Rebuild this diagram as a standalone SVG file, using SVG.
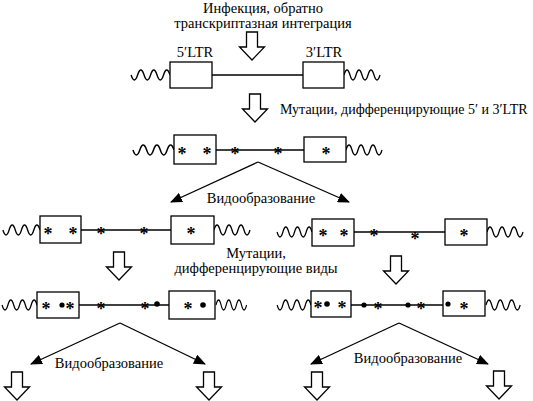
<svg xmlns="http://www.w3.org/2000/svg" xmlns:xlink="http://www.w3.org/1999/xlink" width="533" height="401" viewBox="0 0 533 401">
<style>
text{fill:#000;font-family:"Liberation Serif","Times New Roman",serif}
.lbl{font-size:14.5px;text-anchor:middle}
.st{font-size:18px;text-anchor:middle;font-weight:bold}
.box{fill:#fff;stroke:#000;stroke-width:1.3}
.ln{fill:none;stroke:#000;stroke-width:1.3}
.blk{fill:#fff;stroke:#000;stroke-width:1.3;stroke-linejoin:miter}
.sp{fill:none;stroke:#000;stroke-width:1.3;marker-end:url(#ah)}
</style>
<defs>
<marker id="ah" viewBox="0 0 12 10" refX="11" refY="5" markerWidth="12" markerHeight="10" markerUnits="userSpaceOnUse" orient="auto">
<path d="M0,0 L12,5 L0,10 Z" fill="#000"/>
</marker>
<path id="wave" d="M0,0 q3,-10 6,0 t6,0 t6,0 t6,0 t6,0 t6,0" fill="none" stroke="#000" stroke-width="1.3"/>
<path id="barrow" d="M-5.5,0 H5.5 V15 H12.5 L0,28 L-12.5,15 H-5.5 Z" class="blk"/>
</defs>

<g id="title">
<text class="lbl" x="263" y="13">Инфекция, обратно</text>
<text class="lbl" x="263" y="28">транскриптазная интеграция</text>
</g>

<g id="connectors">
<use xlink:href="#barrow" x="252" y="32"/>
<use xlink:href="#barrow" x="255" y="94"/>
<use xlink:href="#barrow" x="119" y="252"/>
<use xlink:href="#barrow" x="396" y="256"/>
<use xlink:href="#barrow" x="17" y="372"/>
<use xlink:href="#barrow" x="209" y="372"/>
<use xlink:href="#barrow" x="317" y="372"/>
<use xlink:href="#barrow" x="499" y="371"/>
<path class="sp" d="M258,162 L171,202"/>
<path class="sp" d="M258,162 L349,202"/>
<path class="sp" d="M120,323 L31,364"/>
<path class="sp" d="M120,323 L205,364"/>
<path class="sp" d="M399,323 L311,364"/>
<path class="sp" d="M399,323 L488,364"/>
<path class="ln" d="M212,75 H303"/>
<path class="ln" d="M216,150 H304"/>
<path class="ln" d="M81,230 H171"/>
<path class="ln" d="M354,232 H445"/>
<path class="ln" d="M79,305 H169"/>
<path class="ln" d="M351,305 H443"/>
<use xlink:href="#wave" transform="translate(170,75) scale(-1.08,1)"/>
<use xlink:href="#wave" transform="translate(344,75)"/>
<use xlink:href="#wave" transform="translate(174,150) scale(-1.14,1)"/>
<use xlink:href="#wave" transform="translate(346,150)"/>
<use xlink:href="#wave" transform="translate(40,230) scale(-1.03,1)"/>
<use xlink:href="#wave" transform="translate(214,230)"/>
<use xlink:href="#wave" transform="translate(312,232) scale(-0.97,1)"/>
<use xlink:href="#wave" transform="translate(487,232)"/>
<use xlink:href="#wave" transform="translate(37,305) scale(-0.97,1)"/>
<use xlink:href="#wave" transform="translate(216,305) scale(0.85,1)"/>
<use xlink:href="#wave" transform="translate(311,305) scale(-0.94,1)"/>
<use xlink:href="#wave" transform="translate(486,305) scale(0.95,1)"/>
</g>

<g id="labels">
<text class="lbl" x="195" y="57">5′LTR</text>
<text class="lbl" x="324" y="57">3′LTR</text>
<text x="280" y="114" font-size="14">Мутации, дифференцирующие 5′ и 3′LTR</text>
<text class="lbl" x="261" y="203">Видообразование</text>
<text class="lbl" x="256" y="258">Мутации,</text>
<text class="lbl" x="256" y="273">дифференцирующие виды</text>
<text class="lbl" x="109" y="368">Видообразование</text>
<text class="lbl" x="408" y="363">Видообразование</text>
</g>

<g id="row1">
<g id="r1-ltr5"><rect class="box" x="170" y="62" width="42" height="26"/></g>
<g id="r1-ltr3"><rect class="box" x="303" y="62" width="41" height="26"/></g>
</g>

<g id="row2">
<g id="r2-ltr5"><rect class="box" x="174" y="135" width="42" height="29"/>
<text class="st" x="182" y="160">*</text><text class="st" x="207" y="160">*</text></g>
<g id="r2-mid"><text class="st" x="235" y="160">*</text><text class="st" x="278" y="160">*</text></g>
<g id="r2-ltr3"><rect class="box" x="304" y="137" width="42" height="25"/>
<text class="st" x="326" y="160">*</text></g>
</g>

<g id="row3a">
<g id="r3a-ltr5"><rect class="box" x="40" y="216" width="41" height="27"/>
<text class="st" x="48" y="240">*</text><text class="st" x="73" y="240">*</text></g>
<g id="r3a-mid"><text class="st" x="101" y="240">*</text><text class="st" x="144" y="240">*</text></g>
<g id="r3a-ltr3"><rect class="box" x="171" y="216" width="43" height="28"/>
<text class="st" x="191" y="240">*</text></g>
</g>

<g id="row3b">
<g id="r3b-ltr5"><rect class="box" x="312" y="219" width="42" height="27"/>
<text class="st" x="323" y="242">*</text><text class="st" x="344" y="242">*</text></g>
<g id="r3b-mid"><text class="st" x="374" y="242">*</text><text class="st" x="415" y="245">*</text></g>
<g id="r3b-ltr3"><rect class="box" x="445" y="219" width="42" height="26"/>
<text class="st" x="464" y="242">*</text></g>
</g>

<g id="row4a">
<g id="r4a-ltr5"><rect class="box" x="37" y="292" width="42" height="26"/>
<text class="st" x="46" y="315">*</text><circle cx="62" cy="305" r="2.6"/><text class="st" x="70" y="315">*</text></g>
<g id="r4a-mid"><text class="st" x="101" y="315">*</text><text class="st" x="145" y="315">*</text><circle cx="157" cy="304" r="2.8"/></g>
<g id="r4a-ltr3"><rect class="box" x="169" y="291" width="46" height="28"/>
<text class="st" x="188" y="315">*</text><circle cx="203" cy="305" r="2.8"/></g>
</g>

<g id="row4b">
<g id="r4b-ltr5"><rect class="box" x="311" y="291" width="40" height="26"/>
<text class="st" x="318" y="314">*</text><circle cx="327" cy="304" r="2.8"/><text class="st" x="342" y="314">*</text></g>
<g id="r4b-mid"><circle cx="364" cy="305" r="2.6"/><text class="st" x="378" y="315">*</text><circle cx="408" cy="305" r="2.6"/><text class="st" x="421" y="315">*</text></g>
<g id="r4b-ltr3"><rect class="box" x="443" y="291" width="42" height="25"/>
<circle cx="448" cy="304" r="2.6"/><text class="st" x="464" y="315">*</text></g>
</g>
</svg>
